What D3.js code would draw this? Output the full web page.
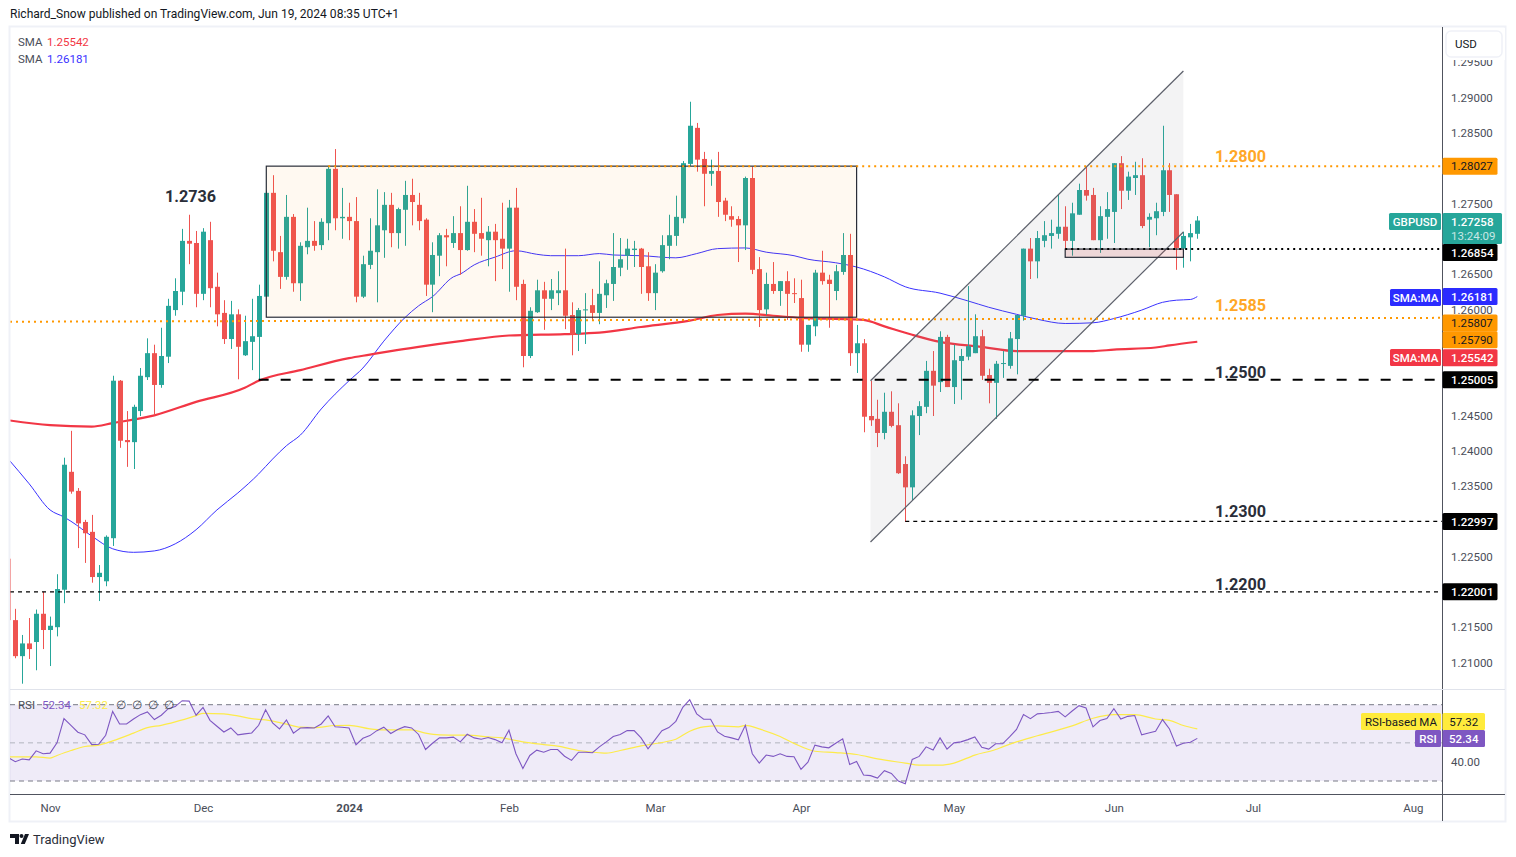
<!DOCTYPE html>
<html>
<head>
<meta charset="utf-8">
<script src="https://cdn.jsdelivr.net/npm/d3@7"></script>
<style>
html, body { margin: 0; padding: 0; background: #fff; overflow: hidden; }
text { font-family: Roboto, "Noto Sans", sans-serif; }
</style>
</head>
<body>
<svg id="chart" width="1516" height="857"></svg>
<script>
// daily GBPUSD, first row is the bar cut off by the left edge
const opens = [1.2247,1.2160,1.2109,1.2127,1.2129,1.2169,1.2146,1.2150,1.2203,1.2370,1.2343,1.2299,1.2285,1.2221,1.2215,1.2276,1.2499,1.2415,1.2412,1.2456,1.2504,1.2538,1.2493,1.2533,1.2599,1.2625,1.2697,1.2694,1.2622,1.2698,1.2632,1.2595,1.2558,1.2593,1.2535,1.2554,1.2561,1.2618,1.2765,1.2681,1.2646,1.2731,1.2637,1.2688,1.2697,1.2691,1.2722,1.2799,1.2729,1.2731,1.2725,1.2618,1.2663,1.2681,1.2712,1.2748,1.2708,1.2741,1.2762,1.2748,1.2727,1.2635,1.2676,1.2705,1.2694,1.2708,1.2684,1.2724,1.2708,1.2698,1.2710,1.2700,1.2686,1.2744,1.2636,1.2534,1.2596,1.2627,1.2615,1.2623,1.2627,1.2592,1.2565,1.2599,1.2606,1.2595,1.2620,1.2636,1.2659,1.2676,1.2684,1.2686,1.2661,1.2623,1.2654,1.2690,1.2704,1.2729,1.2806,1.2857,1.2813,1.2792,1.2796,1.2754,1.2732,1.2728,1.2719,1.2786,1.2657,1.2600,1.2636,1.2626,1.2640,1.2623,1.2616,1.2550,1.2576,1.2652,1.2642,1.2626,1.2653,1.2677,1.2538,1.2552,1.2449,1.2445,1.2425,1.2455,1.2436,1.2381,1.2348,1.2449,1.2462,1.2513,1.2497,1.2561,1.2490,1.2527,1.2533,1.2538,1.2562,1.2507,1.2496,1.2523,1.2520,1.2558,1.2591,1.2686,1.2668,1.2697,1.2704,1.2707,1.2717,1.2697,1.2734,1.2769,1.2762,1.2698,1.2731,1.2738,1.2807,1.2768,1.2786,1.2790,1.2727,1.2729,1.2738,1.2797,1.2763,1.2686,1.2702,1.2707];
const highs = [1.2256,1.2176,1.2139,1.2163,1.2175,1.2200,1.2165,1.2225,1.2390,1.2428,1.2347,1.2302,1.2309,1.2238,1.2280,1.2506,1.2500,1.2456,1.2465,1.2517,1.2559,1.2550,1.2574,1.2615,1.2644,1.2714,1.2734,1.2711,1.2715,1.2724,1.2652,1.2613,1.2612,1.2600,1.2591,1.2615,1.2635,1.2768,1.2790,1.2704,1.2762,1.2735,1.2695,1.2744,1.2725,1.2729,1.2803,1.2827,1.2772,1.2751,1.2759,1.2676,1.2729,1.2770,1.2766,1.2765,1.2744,1.2782,1.2785,1.2765,1.2729,1.2695,1.2708,1.2714,1.2732,1.2746,1.2775,1.2742,1.2758,1.2718,1.2721,1.2751,1.2755,1.2772,1.2642,1.2603,1.2642,1.2639,1.2643,1.2654,1.2686,1.2610,1.2602,1.2623,1.2629,1.2668,1.2642,1.2708,1.2701,1.2700,1.2697,1.2687,1.2681,1.2664,1.2705,1.2734,1.2761,1.2810,1.2894,1.2864,1.2823,1.2812,1.2823,1.2758,1.2746,1.2732,1.2788,1.2802,1.2674,1.2652,1.2667,1.2640,1.2654,1.2644,1.2642,1.2578,1.2656,1.2683,1.2649,1.2663,1.2708,1.2707,1.2578,1.2558,1.2499,1.2472,1.2482,1.2484,1.2467,1.2392,1.2457,1.2470,1.2527,1.2541,1.2569,1.2564,1.2550,1.2544,1.2633,1.2593,1.2571,1.2516,1.2527,1.2541,1.2568,1.2592,1.2686,1.2701,1.2711,1.2725,1.2727,1.2762,1.2746,1.2751,1.2778,1.2802,1.2772,1.2746,1.2766,1.2807,1.2817,1.2795,1.2809,1.2814,1.2736,1.2751,1.2860,1.2807,1.2763,1.2710,1.2721,1.2732];
const lows = [1.2150,1.2106,1.2070,1.2105,1.2089,1.2119,1.2095,1.2137,1.2184,1.2339,1.2262,1.2241,1.2213,1.2187,1.2208,1.2265,1.2404,1.2377,1.2374,1.2449,1.2500,1.2450,1.2489,1.2524,1.2591,1.2606,1.2664,1.2603,1.2613,1.2603,1.2576,1.2551,1.2544,1.2501,1.2534,1.2514,1.2500,1.2618,1.2668,1.2629,1.2642,1.2625,1.2612,1.2678,1.2683,1.2684,1.2698,1.2712,1.2700,1.2698,1.2610,1.2616,1.2657,1.2610,1.2673,1.2688,1.2686,1.2690,1.2719,1.2712,1.2619,1.2596,1.2647,1.2661,1.2687,1.2649,1.2683,1.2681,1.2676,1.2661,1.2640,1.2657,1.2625,1.2613,1.2518,1.2531,1.2595,1.2571,1.2599,1.2606,1.2572,1.2535,1.2541,1.2551,1.2585,1.2579,1.2602,1.2612,1.2647,1.2656,1.2660,1.2622,1.2612,1.2599,1.2652,1.2671,1.2690,1.2722,1.2803,1.2795,1.2746,1.2775,1.2731,1.2725,1.2717,1.2667,1.2684,1.2650,1.2575,1.2592,1.2622,1.2605,1.2585,1.2609,1.2540,1.2540,1.2562,1.2635,1.2574,1.2613,1.2649,1.2520,1.2510,1.2426,1.2435,1.2405,1.2416,1.2433,1.2367,1.2299,1.2330,1.2422,1.2453,1.2449,1.2483,1.2490,1.2466,1.2472,1.2528,1.2538,1.2500,1.2467,1.2445,1.2503,1.2516,1.2508,1.2584,1.2643,1.2644,1.2688,1.2686,1.2700,1.2686,1.2676,1.2734,1.2754,1.2698,1.2680,1.2700,1.2694,1.2742,1.2755,1.2762,1.2715,1.2688,1.2705,1.2732,1.2738,1.2656,1.2659,1.2668,1.2700];
const closes = [1.2160,1.2109,1.2127,1.2119,1.2169,1.2146,1.2152,1.2204,1.2380,1.2342,1.2297,1.2283,1.2221,1.2227,1.2278,1.2499,1.2414,1.2412,1.2462,1.2506,1.2538,1.2493,1.2534,1.2605,1.2626,1.2697,1.2693,1.2622,1.2710,1.2630,1.2593,1.2558,1.2593,1.2547,1.2555,1.2562,1.2619,1.2765,1.2683,1.2646,1.2731,1.2637,1.2690,1.2697,1.2690,1.2724,1.2799,1.2729,1.2731,1.2725,1.2618,1.2664,1.2683,1.2719,1.2748,1.2708,1.2742,1.2762,1.2752,1.2725,1.2635,1.2677,1.2705,1.2702,1.2708,1.2684,1.2724,1.2707,1.2700,1.2710,1.2698,1.2686,1.2744,1.2632,1.2534,1.2598,1.2627,1.2615,1.2627,1.2627,1.2591,1.2564,1.2599,1.2600,1.2595,1.2622,1.2637,1.2660,1.2671,1.2686,1.2686,1.2660,1.2623,1.2652,1.2691,1.2705,1.2731,1.2807,1.2860,1.2812,1.2792,1.2796,1.2752,1.2734,1.2727,1.2719,1.2786,1.2656,1.2599,1.2636,1.2626,1.2640,1.2622,1.2622,1.2550,1.2578,1.2652,1.2640,1.2636,1.2654,1.2677,1.2538,1.2552,1.2448,1.2443,1.2425,1.2455,1.2435,1.2368,1.2348,1.2450,1.2463,1.2513,1.2492,1.2561,1.2490,1.2528,1.2534,1.2548,1.2562,1.2506,1.2496,1.2523,1.2524,1.2559,1.2592,1.2686,1.2668,1.2701,1.2705,1.2708,1.2717,1.2697,1.2736,1.2769,1.2761,1.2698,1.2732,1.2742,1.2807,1.2768,1.2788,1.2790,1.2718,1.2731,1.2739,1.2797,1.2762,1.2687,1.2704,1.2708,1.27258];

// RSI, one value per bar
const rsiValues = [42.2,40.1,41.5,41.1,45.8,44.3,44.6,50.0,62.7,59.2,55.6,54.2,49.1,49.3,54.0,66.5,59.9,59.9,62.5,64.8,66.2,62.2,64.5,67.9,69.0,72.1,71.9,64.5,68.6,61.8,58.7,55.7,57.8,54.2,54.7,55.2,59.2,67.4,60.5,57.3,62.0,55.1,57.8,58.0,57.8,59.9,64.1,58.4,58.2,57.8,49.0,52.4,53.8,56.4,58.2,54.9,57.0,58.5,57.8,54.4,46.5,49.8,52.6,52.6,53.0,50.5,54.5,52.6,51.9,52.8,51.7,50.0,56.6,44.3,36.6,43.4,46.2,45.1,46.5,46.5,43.0,40.8,45.1,45.1,44.8,47.9,50.5,53.3,54.4,56.4,56.4,52.6,46.9,51.6,56.4,58.0,61.3,68.6,72.6,65.2,62.4,62.4,55.7,53.5,52.6,51.6,59.2,44.3,39.4,43.6,42.9,44.3,42.9,42.7,36.1,39.9,48.8,47.9,47.4,49.8,52.1,38.7,40.2,33.1,32.8,31.5,35.4,34.0,30.0,28.6,41.3,42.9,47.9,46.2,52.6,46.7,50.0,50.5,51.7,53.1,47.7,46.7,49.5,49.5,53.1,57.0,64.8,62.7,65.2,65.5,65.9,66.5,63.6,66.7,69.5,68.3,58.4,61.7,62.7,67.9,62.5,63.9,64.3,54.2,55.2,56.1,62.2,57.3,48.3,49.8,50.3,52.34];

// moving averages, read at these bars
const sma200Bars = [-1,5,11,14,20,26,33,35,41,48,51,54,58,64,71,79,84,90,97,101,105,109,113,120,122,125,129,133,139,144,155,158,164,166,170];
const sma200 = [1.2443,1.2436,1.2434,1.2439,1.2450,1.2469,1.2489,1.2499,1.2514,1.2531,1.2536,1.2541,1.2547,1.2555,1.2563,1.2565,1.2567,1.2575,1.2584,1.2592,1.2594,1.2591,1.2588,1.2586,1.2585,1.2576,1.2564,1.2554,1.2547,1.2541,1.2541,1.2543,1.2546,1.2549,1.25542];
const sma50Bars = [-1,2,5,7,8,11,14,17,20,23,26,29,32,35,37,39,41,44,48,50,53,56,58,60,63,64,66,69,72,75,77,81,84,86,90,95,98,101,105,108,112,114,118,121,125,128,133,137,140,144,147,151,155,158,162,165,167,169,170];
const sma50 = [1.2388,1.2353,1.2316,1.2306,1.2300,1.2279,1.2261,1.2256,1.2258,1.2268,1.2288,1.2316,1.2340,1.2367,1.2388,1.2407,1.2422,1.2459,1.2499,1.2517,1.2555,1.2588,1.2605,1.2618,1.2646,1.2650,1.2663,1.2674,1.2683,1.2678,1.2676,1.2676,1.2679,1.2677,1.2676,1.2673,1.2679,1.2686,1.2687,1.2681,1.2676,1.2671,1.2666,1.2660,1.2646,1.2632,1.2623,1.2612,1.2603,1.2593,1.2586,1.2580,1.2581,1.2587,1.2599,1.2610,1.2613,1.2614,1.26181];
const rsiMaBars = [-1,3,5,6,8,10,12,14,17,19,21,23,26,27,30,32,34,36,39,41,43,46,48,51,53,57,59,61,65,68,70,73,76,78,81,84,85,87,90,93,95,97,99,101,104,105,107,110,112,115,118,121,124,128,130,133,135,138,141,142,144,147,152,155,158,161,164,166,168,170];
const rsiMa = [42.7,42.7,42.0,43.4,46.0,48.1,48.8,51.0,55.1,58.0,59.2,61.0,64.3,65.5,65.2,64.1,62.7,62.0,59.8,58.2,58.0,59.1,59.2,57.3,56.8,56.8,55.1,54.2,54.0,53.1,52.6,50.5,49.1,48.3,46.0,44.8,44.6,46.0,48.4,50.2,51.9,56.1,58.4,58.9,58.4,59.2,57.3,53.3,49.7,45.6,44.9,43.9,41.6,39.4,38.3,38.3,39.4,43.6,46.5,47.9,50.5,53.7,58.9,62.9,64.8,64.8,62.5,61.8,59.1,57.32];

// axes, the ticks sitting under a price tag are left out
const priceTicks = [1.295,1.29,1.285,1.275,1.265,1.26,1.245,1.24,1.235,1.225,1.215,1.21];
const monthBars = [5,27,48,71,92,113,135,158,178,201];
const monthLabels = ["Nov","Dec","2024","Feb","Mar","Apr","May","Jun","Jul","Aug"];

// levels and drawings, as bar index and price
const channelBars = [123,168];
const channelUpper = [1.2499,1.29375];
const channelLower = [1.22706,1.27095];
const rangeBars = [36.1,121];
const rangePrices = [1.28028,1.25889];
const baseBars = [151,168];
const basePrices = [1.26854,1.26737];
const slopedLevel = [1.25825,1.2588];

const green = "#26a69a", red = "#ef5350", orange = "#ff9800";
const labelSize = 11.5;

const svg = d3.select("#chart");
const x = d3.scaleLinear().domain([0,170]).range([15.3,1197.3]);
const y = d3.scaleLinear().domain([1.21,1.29]).range([662.5,97.5]);
const yRsi = d3.scaleLinear().domain([30,70]).range([781,704.7]);
const chartLeft = 10, chartRight = 1442;

const defs = svg.append("defs");
defs.append("clipPath").attr("id","main").append("rect")
  .attr("x",chartLeft+0.5).attr("y",27).attr("width",chartRight-chartLeft-0.5).attr("height",662);
defs.append("clipPath").attr("id","low").append("rect")
  .attr("x",chartLeft).attr("y",690).attr("width",chartRight-chartLeft).attr("height",104);

// header and frame
svg.append("text").attr("x",10).attr("y",18).attr("font-size",12.05).attr("fill","#131722")
  .text("Richard_Snow published on TradingView.com, Jun 19, 2024 08:35 UTC+1");
svg.append("rect").attr("x",9.5).attr("y",26.5).attr("width",1496).attr("height",795)
  .attr("fill","none").attr("stroke","#eff1f7").attr("stroke-width",2);

// RSI pane
const low = svg.append("g").attr("clip-path","url(#low)");
low.append("rect").attr("x",chartLeft).attr("y",yRsi(70)).attr("width",chartRight-chartLeft)
  .attr("height",yRsi(30)-yRsi(70)).attr("fill","#7e57c2").attr("opacity",0.12);
[[70,"#787b86"],[50,"#b2b5be"],[30,"#787b86"]].forEach(function(d) {
  low.append("line").attr("x1",chartLeft).attr("x2",chartRight).attr("y1",yRsi(d[0])).attr("y2",yRsi(d[0]))
    .attr("stroke",d[1]).attr("stroke-width",1).attr("stroke-dasharray","5 4");
});
low.append("path").datum(rsiMaBars)
  .attr("d",d3.line().x(d => x(d)).y((d,i) => yRsi(rsiMa[i])).curve(d3.curveMonotoneX))
  .attr("fill","none").attr("stroke","#fdeb4a").attr("stroke-width",1.2);
low.append("path").datum(rsiValues)
  .attr("d",d3.line().x((d,i) => x(i-1)).y(d => yRsi(d)))
  .attr("fill","none").attr("stroke","#7e57c2").attr("stroke-width",1.1);

// main pane
const main = svg.append("g").attr("clip-path","url(#main)");

function smaLine(bars, values, color, width) {
  main.append("path").datum(bars)
    .attr("d",d3.line().x(d => x(d)).y((d,i) => y(values[i])).curve(d3.curveMonotoneX))
    .attr("fill","none").attr("stroke",color).attr("stroke-width",width);
}
smaLine(sma50Bars, sma50, "#3a32ff", 1);
smaLine(sma200Bars, sma200, "#f23645", 2.2);

// candles
const bars = d3.range(opens.length);
const candle = main.selectAll("g.candle").data(bars).enter().append("g").attr("class","candle");
candle.append("line")
  .attr("x1",i => Math.round(x(i-1))+0.5).attr("x2",i => Math.round(x(i-1))+0.5)
  .attr("y1",i => y(highs[i])).attr("y2",i => y(lows[i]))
  .attr("stroke",i => closes[i] >= opens[i] ? green : red).attr("stroke-width",1);
candle.append("rect")
  .attr("x",i => Math.round(x(i-1))-2).attr("width",5)
  .attr("y",i => y(Math.max(opens[i],closes[i])))
  .attr("height",i => Math.max(1,Math.abs(y(opens[i])-y(closes[i]))))
  .attr("fill",i => closes[i] >= opens[i] ? green : red);

// range box
main.append("rect").attr("x",x(rangeBars[0])).attr("y",y(rangePrices[0]))
  .attr("width",x(rangeBars[1])-x(rangeBars[0])).attr("height",y(rangePrices[1])-y(rangePrices[0]))
  .attr("fill",orange).attr("fill-opacity",0.055).attr("stroke","#2a2e39").attr("stroke-width",1.2);

// channel
main.append("polygon")
  .attr("points",[[x(channelBars[0]),y(channelUpper[0])],[x(channelBars[1]),y(channelUpper[1])],
    [x(channelBars[1]),y(channelLower[1])],[x(channelBars[0]),y(channelLower[0])]].join(" "))
  .attr("fill","#787b86").attr("fill-opacity",0.09);
[channelUpper,channelLower].forEach(function(d) {
  main.append("line").attr("x1",x(channelBars[0])).attr("x2",x(channelBars[1]))
    .attr("y1",y(d[0])).attr("y2",y(d[1])).attr("stroke","#5d606b").attr("stroke-width",1.2);
});

// small base box
main.append("rect").attr("x",x(baseBars[0])).attr("y",y(basePrices[0]))
  .attr("width",x(baseBars[1])-x(baseBars[0])).attr("height",y(basePrices[1])-y(basePrices[0]))
  .attr("fill","#d83a3a").attr("fill-opacity",0.15).attr("stroke","#2a2e39").attr("stroke-width",1.2);

// level lines
function level(fromX, p1, p2, color, width, dash) {
  main.append("line").attr("x1",fromX).attr("x2",chartRight).attr("y1",y(p1)).attr("y2",y(p2))
    .attr("stroke",color).attr("stroke-width",width).attr("stroke-dasharray",dash);
}
level(x(45),1.28027,1.28027,orange,2,"2 4");
level(chartLeft,slopedLevel[0],slopedLevel[1],orange,2,"2 4");
level(x(35),1.25005,1.25005,"#000",2,"10 12");
level(chartLeft,1.22001,1.22001,"#000",1.2,"4 4");
level(x(128),1.22997,1.22997,"#000",1.2,"4 4");
level(x(151),1.26854,1.26854,"#000",2,"2 4");

// level labels
function note(tx, ty, label, color) {
  svg.append("text").attr("x",tx).attr("y",ty).attr("font-size",16.2).attr("font-weight",700)
    .attr("fill",color).text(label);
}
note(165,202,"1.2736","#2a2e39");
note(1215,162,"1.2800","#ffa726");
note(1215,311,"1.2585","#ffa726");
note(1215,378,"1.2500","#2a2e39");
note(1215,517,"1.2300","#2a2e39");
note(1215,590,"1.2200","#2a2e39");

// axis lines
svg.append("line").attr("x1",chartRight+0.5).attr("x2",chartRight+0.5).attr("y1",27).attr("y2",821)
  .attr("stroke","#50535e");
svg.append("line").attr("x1",chartLeft).attr("x2",1505).attr("y1",794.5).attr("y2",794.5)
  .attr("stroke","#50535e");
svg.append("line").attr("x1",chartLeft).attr("x2",1505).attr("y1",689.5).attr("y2",689.5)
  .attr("stroke","#e0e3eb");

// price axis
const priceAxis = svg.append("g").attr("transform","translate("+chartRight+",0)")
  .call(d3.axisRight(y).tickValues(priceTicks).tickSize(0).tickPadding(9).tickFormat(d3.format(".5f")));
priceAxis.select(".domain").remove();
priceAxis.selectAll("text").attr("font-size",labelSize).attr("fill","#4a4e59").style("font-family","Roboto");

svg.append("text").attr("x",1451).attr("y",yRsi(40)+4).attr("font-size",labelSize).attr("fill","#4a4e59").text("40.00");

// time axis
const timeAxis = svg.append("g").attr("transform","translate(0,803)")
  .call(d3.axisBottom(x).tickValues(monthBars).tickSize(0).tickPadding(0).tickFormat((d,i) => monthLabels[i]));
timeAxis.select(".domain").remove();
timeAxis.selectAll("text").attr("dy","0.75em").attr("font-size",labelSize).attr("fill","#4a4e59").style("font-family","Roboto")
  .attr("font-weight",d => d === 48 ? 700 : 400);

// USD button, covers the top of the highest tick
svg.append("rect").attr("x",1443).attr("y",28).attr("width",62).attr("height",32).attr("fill","#fff");
svg.append("rect").attr("x",1446).attr("y",31).attr("width",56).attr("height",26).attr("rx",5)
  .attr("fill","#fff").attr("stroke","#eff1f7").attr("stroke-width",1.5);
svg.append("text").attr("x",1455).attr("y",48).attr("font-size",labelSize).attr("fill","#131722").text("USD");

// price tags
function tag(x0, width, cy, label, bg, fg, weight, tx) {
  svg.append("rect").attr("x",x0).attr("y",cy-8.5).attr("width",width).attr("height",17).attr("rx",1.5).attr("fill",bg);
  svg.append("text").attr("x",tx === undefined ? x0+width/2 : tx).attr("y",cy+4.2)
    .attr("text-anchor",tx === undefined ? "middle" : "start")
    .attr("font-size",labelSize).attr("font-weight",weight || 400).attr("fill",fg).text(label);
}
const axisTagX = 1442.5, axisTagW = 55, textX = 1451;
tag(axisTagX,axisTagW,y(1.28027),"1.28027",orange,"#131722",400,textX);
tag(axisTagX,axisTagW,y(1.26854)+3.5,"1.26854","#000","#fff",500,textX);
tag(axisTagX,axisTagW,y(1.26181),"1.26181","#2b2bff","#fff",500,textX);
tag(axisTagX,axisTagW,y(1.25807),"1.25807",orange,"#131722",400,textX);
tag(axisTagX,axisTagW,y(1.2579)+15.5,"1.25790",orange,"#131722",400,textX);
tag(axisTagX,axisTagW,y(1.25542)+16,"1.25542","#f23645","#fff",500,textX);
tag(axisTagX,axisTagW,y(1.25005),"1.25005","#000","#fff",500,textX);
tag(axisTagX,axisTagW,y(1.22997),"1.22997","#000","#fff",500,textX);
tag(axisTagX,axisTagW,y(1.22001),"1.22001","#000","#fff",500,textX);

// last price tag
svg.append("rect").attr("x",axisTagX).attr("y",213).attr("width",59.5).attr("height",31).attr("rx",1.5).attr("fill",green);
svg.append("text").attr("x",textX).attr("y",226).attr("font-size",labelSize).attr("font-weight",500).attr("fill","#fff").text("1.27258");
svg.append("text").attr("x",textX).attr("y",240).attr("font-size",labelSize).attr("fill","#fff").attr("fill-opacity",0.75).text("13:24:09");
tag(1389,52,221.5,"GBPUSD",green,"#fff",500);

tag(1390,51,297.5,"SMA:MA","#2b2bff","#fff",500);
tag(1390,51,357.5,"SMA:MA","#f23645","#fff",500);

// RSI tags
tag(1361,80,721.5,"RSI-based MA","#ffeb3b","#131722",400);
tag(1442.5,42.5,721.5,"57.32","#ffeb3b","#131722",400);
tag(1415,26,738.5,"RSI","#7e57c2","#fff",500);
tag(1442.5,42.5,738.5,"52.34","#7e57c2","#fff",500);

// legends
function legend(tx, ty, label, color) {
  svg.append("text").attr("x",tx).attr("y",ty).attr("font-size",labelSize).attr("fill",color).text(label);
}
legend(18,45.5,"SMA","#4a4e59");
legend(47,45.5,"1.25542","#f23645");
legend(18,63,"SMA","#4a4e59");
legend(47,63,"1.26181","#3a32ff");
legend(18,709,"RSI","#4a4e59");
legend(42,709,"52.34","#7e57c2");
legend(79,709,"57.32","#fdeb4a");
[116,132,148,164].forEach(tx => legend(tx,709,"∅","#4a4e59"));

// footer logo and name
const logo = svg.append("g").attr("fill","#131722");
logo.append("path").attr("d","M10 834h9v10h-4v-6h-5z");
logo.append("circle").attr("cx",21.5).attr("cy",836).attr("r",2);
logo.append("path").attr("d","M25 834h4l-4.2 10h-4z");
svg.append("text").attr("x",33).attr("y",844).attr("font-size",13).attr("fill","#2a2e39").text("TradingView");
</script>
</body>
</html>
